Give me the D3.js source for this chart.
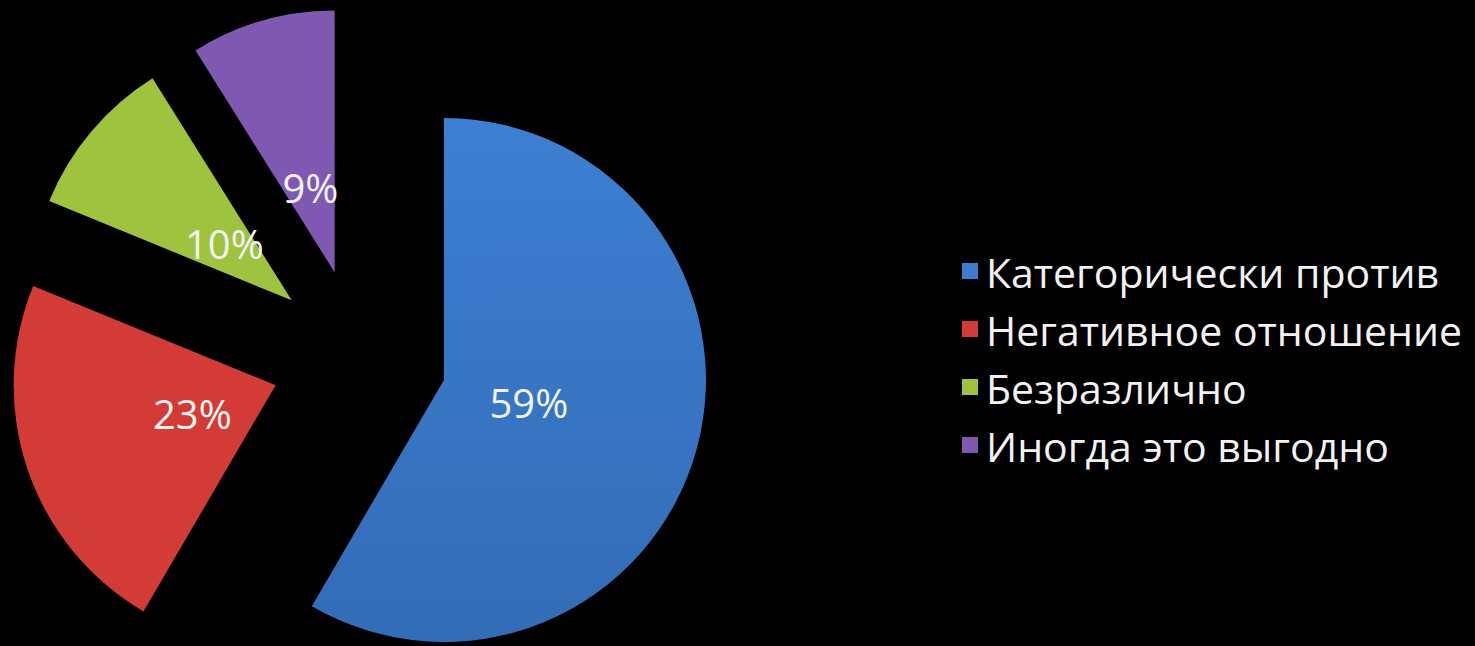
<!DOCTYPE html>
<html>
<head>
<meta charset="utf-8">
<script src="https://cdn.jsdelivr.net/npm/d3@7"></script>
<style>
  html, body { margin: 0; padding: 0; background: #000; }
  svg { display: block; }
</style>
</head>
<body>
<div id="chart"><svg width="1475" height="646"></svg></div>
<script>
const categories = ['Категорически против', 'Негативное отношение', 'Безразлично', 'Иногда это выгодно'];
const shares = [59, 23, 10, 9];
const labels = ['59%', '23%', '10%', '9%'];
const colours = ['#3B7CCD', '#D33B36', '#9DC33F', '#7F58B2'];

const svg = d3.select('#chart svg');

const CX = 359;
const CY = 357;
const RADIUS = 262;
const EXPLODE = 88;

// Colour Scale
const scaleColour = d3.scaleOrdinal()
    .domain(categories)
    .range(colours);

const pie = d3.pie().sort(null).value(d => d.value);
const arcs = pie(categories.map((c, i) => ({ name: c, value: shares[i], label: labels[i] })));

const arc = d3.arc().innerRadius(0).outerRadius(RADIUS);
const labelArc = d3.arc().innerRadius(EXPLODE + 88).outerRadius(EXPLODE + 88);

const offset = (d) => {
    const mid = (d.startAngle + d.endAngle) / 2;
    return [EXPLODE * Math.sin(mid), -EXPLODE * Math.cos(mid)];
};

// Blue slice gets a slight top-to-bottom shade
const defs = svg.append('defs');
const grad = defs.append('linearGradient')
    .attr('id', 'blueShade')
    .attr('x1', 0).attr('y1', 0).attr('x2', 0).attr('y2', 1);
grad.append('stop').attr('offset', '0%').attr('stop-color', '#3D7FD2');
grad.append('stop').attr('offset', '100%').attr('stop-color', '#336CB6');

// Pie Group
const pieG = svg.append('g').attr('transform', `translate(${CX},${CY})`);

pieG.selectAll('path')
    .data(arcs)
    .join('path')
    .attr('d', arc)
    .attr('transform', d => `translate(${offset(d)})`)
    .style('fill', (d, i) => i === 0 ? 'url(#blueShade)' : scaleColour(d.data.name));

pieG.selectAll('text')
    .data(arcs)
    .join('text')
    .text(d => d.data.label)
    .attr('x', d => labelArc.centroid(d)[0])
    .attr('y', d => labelArc.centroid(d)[1])
    .attr('dy', '0.38em')
    .style('fill', '#F2F2F2')
    .style('font-family', '"Open Sans", sans-serif')
    .style('font-size', '40px')
    .style('text-anchor', 'middle');

// Legend
const scaleRow = d3.scalePoint()
    .domain(categories)
    .range([288, 462]);

const legendG = svg.append('g')
    .attr('id', 'legend')
    .style('font-family', '"Open Sans", sans-serif')
    .style('font-size', '41px')
    .style('fill', '#F2F2F2');

const rows = legendG.selectAll('g')
    .data(categories)
    .join('g')
    .attr('transform', d => `translate(962,${scaleRow(d)})`);

rows.append('rect')
    .attr('x', 0)
    .attr('y', -25)
    .attr('width', 16)
    .attr('height', 16)
    .style('fill', d => scaleColour(d));

rows.append('text')
    .attr('x', 24)
    .attr('y', 0)
    .text(d => d);
</script>
</body>
</html>
